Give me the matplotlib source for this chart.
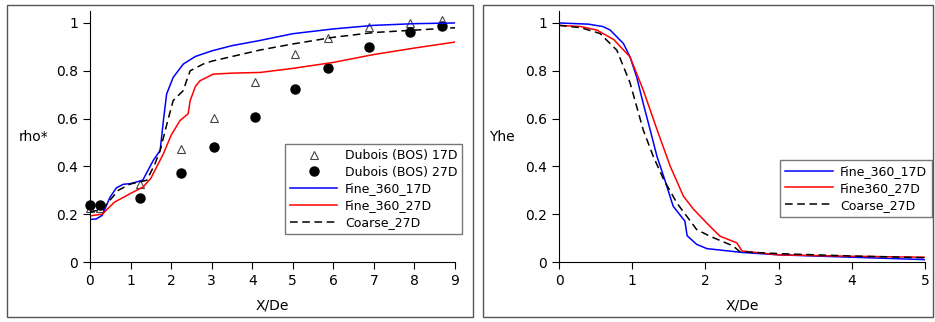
import matplotlib
matplotlib.use("Agg")
import matplotlib.pyplot as plt
from matplotlib.patches import Rectangle

# --- left panel: rho* along the axis ---
bos_x = [0.0, 0.25, 1.23, 2.24, 3.06, 4.06, 5.06, 5.88, 6.88, 7.89, 8.69]
bos17_y = [0.225, 0.225, 0.326, 0.474, 0.603, 0.755, 0.872, 0.936, 0.983, 1.001, 1.012]
bos27_y = [0.239, 0.239, 0.268, 0.371, 0.481, 0.608, 0.722, 0.810, 0.899, 0.961, 0.987]

fine17_x = [0, 0.15, 0.3, 0.49, 0.65, 0.82, 1.0, 1.3, 1.56, 1.73, 1.81, 1.89, 2.05, 2.3, 2.6, 3.0, 3.5, 4.2, 5.0, 6.0, 7.0, 8.0, 9.0]
fine17_y = [0.178, 0.18, 0.195, 0.27, 0.31, 0.325, 0.328, 0.342, 0.425, 0.467, 0.592, 0.703, 0.772, 0.828, 0.86, 0.883, 0.905, 0.927, 0.955, 0.975, 0.99, 0.997, 1.0]

fine27_x = [0, 0.3, 0.6, 0.99, 1.31, 1.5, 1.81, 2.0, 2.22, 2.42, 2.47, 2.6, 2.71, 3.04, 3.5, 4.2, 5.0, 6.0, 7.0, 8.0, 9.0]
fine27_y = [0.193, 0.2, 0.25, 0.286, 0.314, 0.35, 0.453, 0.53, 0.592, 0.62, 0.675, 0.735, 0.758, 0.786, 0.79, 0.793, 0.81, 0.835, 0.868, 0.895, 0.92]

coarse_x = [0, 0.3, 0.5, 0.7, 0.99, 1.4, 1.6, 1.73, 1.9, 2.05, 2.3, 2.38, 2.47, 2.79, 3.0, 4.2, 5.0, 6.0, 7.0, 8.0, 9.0]
coarse_y = [0.21, 0.22, 0.26, 0.30, 0.326, 0.342, 0.41, 0.467, 0.58, 0.675, 0.717, 0.758, 0.80, 0.828, 0.84, 0.887, 0.912, 0.94, 0.96, 0.97, 0.98]

# --- right panel: Yhe along the axis ---
yb_x = [0, 0.4, 0.6, 0.7, 0.88, 0.97, 1.06, 1.15, 1.245, 1.34, 1.43, 1.56, 1.72, 1.75, 1.88, 2.02, 2.5, 3.0, 4.0, 5.0]
yb_y = [1.0, 0.995, 0.985, 0.97, 0.914, 0.858, 0.775, 0.664, 0.553, 0.44, 0.358, 0.233, 0.171, 0.11, 0.074, 0.056, 0.04, 0.03, 0.02, 0.01]

yr_x = [0, 0.3, 0.52, 0.75, 0.97, 1.15, 1.34, 1.52, 1.70, 1.84, 2.06, 2.2, 2.43, 2.5, 3.0, 4.0, 5.0]
yr_y = [0.99, 0.985, 0.97, 0.93, 0.858, 0.72, 0.553, 0.40, 0.275, 0.22, 0.15, 0.108, 0.08, 0.046, 0.03, 0.024, 0.02]

yc_x = [0, 0.3, 0.56, 0.79, 0.97, 1.15, 1.29, 1.43, 1.61, 1.88, 2.06, 2.38, 2.47, 3.0, 4.0, 5.0]
yc_y = [0.99, 0.98, 0.956, 0.886, 0.75, 0.553, 0.44, 0.345, 0.247, 0.136, 0.108, 0.067, 0.043, 0.035, 0.025, 0.018]

plt.rcParams['font.family'] = 'DejaVu Sans'
plt.rcParams['font.size'] = 10

fig = plt.figure(figsize=(9.35, 3.22), dpi=100)

# grey frames around each panel
W, H = 935, 322
for x0, x1 in [(7, 473), (483, 933)]:
    fig.patches.append(Rectangle((x0 / W, 5 / H), (x1 - x0) / W, 312 / H,
                                 transform=fig.transFigure, fill=False,
                                 edgecolor='#555555', linewidth=1))

ax1 = fig.add_axes([90 / W, 60 / H, 365 / W, 251 / H])
ax2 = fig.add_axes([559 / W, 60 / H, 366 / W, 251 / H])


def style(ax, xmax, ylab):
    ax.spines['top'].set_visible(False)
    ax.spines['right'].set_visible(False)
    ax.set_ylim(0, 1.05)
    ax.set_xlim(0, xmax)
    ax.set_yticks([0, 0.2, 0.4, 0.6, 0.8, 1])
    ax.set_yticklabels(['0', '0.2', '0.4', '0.6', '0.8', '1'])
    ax.set_xticks(range(0, xmax + 1))
    ax.tick_params(direction='out', length=5)
    ax.set_xlabel('X/De')
    ax.xaxis.set_label_coords(0.5, -0.147)
    ax.set_ylabel(ylab, rotation=0)
    ax.yaxis.set_label_coords(-0.155, 0.47)


leg_kw = dict(loc='upper left', fancybox=False, edgecolor='#777777', framealpha=1,
              handlelength=3.8, handletextpad=0.6, borderpad=0.4, borderaxespad=0,
              labelspacing=0.3, fontsize=9)

ax1.plot(bos_x, bos17_y, '^', mfc='white', mec='#444444', ms=6, mew=0.8, ls='none',
         label='Dubois (BOS) 17D', clip_on=False)
ax1.plot(bos_x, bos27_y, 'o', color='black', ms=6.5, ls='none',
         label='Dubois (BOS) 27D', clip_on=False)
ax1.plot(fine17_x, fine17_y, color='blue', lw=1.1, label='Fine_360_17D')
ax1.plot(fine27_x, fine27_y, color='red', lw=1.1, label='Fine_360_27D')
ax1.plot(coarse_x, coarse_y, color='black', ls=(0, (5, 3)), lw=1.1, label='Coarse_27D')
style(ax1, 9, 'rho*')
ax1.legend(bbox_to_anchor=(0.534, 0.47), **leg_kw)

ax2.plot(yb_x, yb_y, color='blue', lw=1.1, label='Fine_360_17D')
ax2.plot(yr_x, yr_y, color='red', lw=1.1, label='Fine360_27D')
ax2.plot(yc_x, yc_y, color='black', ls=(0, (5, 3)), lw=1.1, label='Coarse_27D')
style(ax2, 5, 'Yhe')
ax2.legend(bbox_to_anchor=(0.604, 0.406), **leg_kw)

fig.savefig('out.png', dpi=100)
